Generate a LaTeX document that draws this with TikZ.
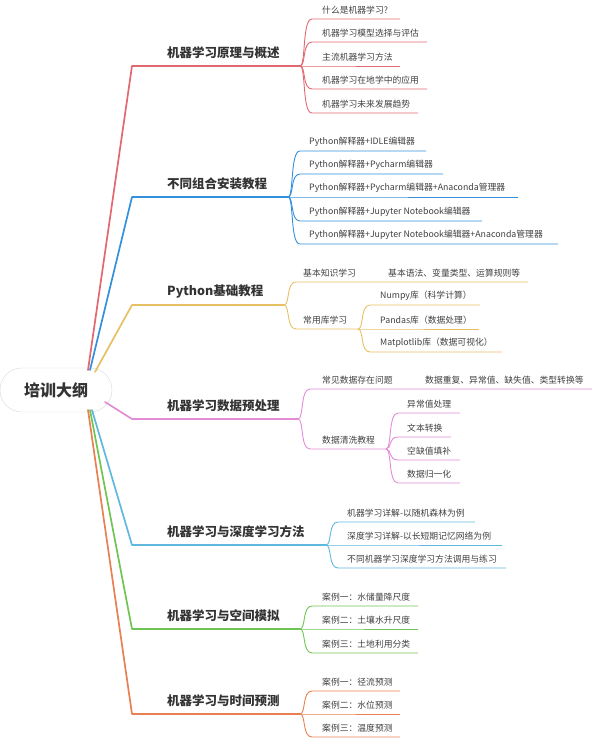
\documentclass[tikz,border=0pt]{standalone}
\usepackage{fontspec}
\setmainfont{Noto Sans CJK SC}
\definecolor{c1}{RGB}{226,104,112}
\definecolor{c2}{RGB}{52,144,220}
\definecolor{c3}{RGB}{232,192,100}
\definecolor{c4}{RGB}{226,140,214}
\definecolor{c5}{RGB}{96,184,222}
\definecolor{c6}{RGB}{112,196,84}
\definecolor{c7}{RGB}{232,128,84}
\begin{document}
\begin{tikzpicture}[x=1pt,y=-1pt,
    topic/.style={anchor=west,inner sep=0pt,font=\fontsize{12.5}{14}\selectfont\bfseries,text=black!80},
    leaf/.style={anchor=west,inner sep=0pt,font=\fontsize{8.8}{10}\selectfont,text=black!75},
    trunk/.style={line width=1.7pt,line cap=round},
    limb/.style={line width=1.1pt},
    twig/.style={line width=0.9pt}]
\useasboundingbox (0,0) rectangle (594,738);

\node[draw=black!15,fill=white,rounded corners=22pt,minimum width=112pt,minimum height=44pt,
      font=\fontsize{16}{18}\selectfont\bfseries,text=black!80] (root) at (56,390) {培训大纲};

% branch 1
\coordinate (r1) at (88,370);
\coordinate (b1) at (132,66);
\coordinate (f1) at (300,66);
\node[topic] (t1) at (167,53) {机器学习原理与概述};
\draw[c1,trunk] (r1) -- (b1);
\draw[c1,limb] (b1) -- (f1);

\coordinate (a11) at (312,19);  \coordinate (e11) at (400,19);
\coordinate (a12) at (312,42);  \coordinate (e12) at (427,42);
\coordinate (a13) at (312,66);  \coordinate (e13) at (400,66);
\coordinate (a14) at (312,89);  \coordinate (e14) at (427,89);
\coordinate (a15) at (312,113); \coordinate (e15) at (418,113);
\node[leaf] (l11) at (322,10) {什么是机器学习?};
\node[leaf] (l12) at (322,33) {机器学习模型选择与评估};
\node[leaf] (l13) at (322,57) {主流机器学习方法};
\node[leaf] (l14) at (322,80) {机器学习在地学中的应用};
\node[leaf] (l15) at (322,104) {机器学习未来发展趋势};
\draw[c1,twig] (f1) .. controls +(6,0) and +(-10,0) .. (a11) -- (e11);
\draw[c1,twig] (f1) .. controls +(6,0) and +(-10,0) .. (a12) -- (e12);
\draw[c1,twig] (f1) -- (a13) -- (e13);
\draw[c1,twig] (f1) .. controls +(6,0) and +(-10,0) .. (a14) -- (e14);
\draw[c1,twig] (f1) .. controls +(6,0) and +(-10,0) .. (a15) -- (e15);

% branch 2
\coordinate (r2) at (90,370);
\coordinate (b2) at (132,197);
\coordinate (f2) at (288,197);
\node[topic] (t2) at (167,184) {不同组合安装教程};
\draw[c2,trunk] (r2) -- (b2);
\draw[c2,limb] (b2) -- (f2);

\coordinate (a21) at (300,151); \coordinate (e21) at (426,151);
\coordinate (a22) at (300,174); \coordinate (e22) at (443,174);
\coordinate (a23) at (300,197); \coordinate (e23) at (518,197);
\coordinate (a24) at (300,221); \coordinate (e24) at (482,221);
\coordinate (a25) at (300,244); \coordinate (e25) at (558,244);
\node[leaf] (l21) at (309,142) {Python解释器+IDLE编辑器};
\node[leaf] (l22) at (309,165) {Python解释器+Pycharm编辑器};
\node[leaf] (l23) at (309,188) {Python解释器+Pycharm编辑器+Anaconda管理器};
\node[leaf] (l24) at (309,212) {Python解释器+Jupyter Notebook编辑器};
\node[leaf] (l25) at (309,235) {Python解释器+Jupyter Notebook编辑器+Anaconda管理器};
\draw[c2,twig] (f2) .. controls +(6,0) and +(-10,0) .. (a21) -- (e21);
\draw[c2,twig] (f2) .. controls +(6,0) and +(-10,0) .. (a22) -- (e22);
\draw[c2,twig] (f2) -- (a23) -- (e23);
\draw[c2,twig] (f2) .. controls +(6,0) and +(-10,0) .. (a24) -- (e24);
\draw[c2,twig] (f2) .. controls +(6,0) and +(-10,0) .. (a25) -- (e25);

% branch 3
\coordinate (r3) at (95,372);
\coordinate (b3) at (132,305);
\coordinate (f3) at (284,305);
\node[topic] (t3) at (167,292) {Python基础教程};
\draw[c3,trunk] (r3) -- (b3);
\draw[c3,limb] (b3) -- (f3);

\coordinate (a31) at (296,282); \coordinate (e31) at (380,282); \coordinate (g31) at (528,282);
\coordinate (a32) at (296,329); \coordinate (f32) at (358,329);
\node[leaf] (l31) at (303,273) {基本知识学习};
\node[leaf] (k31) at (388,273) {基本语法、变量类型、运算规则等};
\node[leaf] (l32) at (303,320) {常用库学习};
\draw[c3,twig] (f3) .. controls +(6,0) and +(-10,0) .. (a31) -- (e31) -- (g31);
\draw[c3,twig] (f3) .. controls +(6,0) and +(-10,0) .. (a32) -- (f32);

\coordinate (a321) at (370,305); \coordinate (e321) at (480,305);
\coordinate (a322) at (370,329); \coordinate (e322) at (479,329);
\coordinate (a323) at (370,352); \coordinate (e323) at (502,352);
\node[leaf] (l321) at (380,296) {Numpy库（科学计算）};
\node[leaf] (l322) at (380,320) {Pandas库（数据处理）};
\node[leaf] (l323) at (380,343) {Matplotlib库（数据可视化）};
\draw[c3,twig] (f32) .. controls +(6,0) and +(-10,0) .. (a321) -- (e321);
\draw[c3,twig] (f32) -- (a322) -- (e322);
\draw[c3,twig] (f32) .. controls +(6,0) and +(-10,0) .. (a323) -- (e323);

% branch 4
\coordinate (r4) at (105,402);
\coordinate (b4) at (132,419);
\coordinate (f4) at (298,419);
\node[topic] (t4) at (167,406) {机器学习数据预处理};
\draw[c4,trunk] (r4) -- (b4);
\draw[c4,limb] (b4) -- (f4);

\coordinate (a41) at (310,389); \coordinate (e41) at (415,389); \coordinate (g41) at (592,389);
\coordinate (a42) at (310,449); \coordinate (f42) at (386,449);
\node[leaf] (l41) at (322,380) {常见数据存在问题};
\node[leaf] (k41) at (425,380) {数据重复、异常值、缺失值、类型转换等};
\node[leaf] (l42) at (322,440) {数据清洗教程};
\draw[c4,twig] (f4) .. controls +(6,0) and +(-10,0) .. (a41) -- (e41) -- (g41);
\draw[c4,twig] (f4) .. controls +(6,0) and +(-10,0) .. (a42) -- (f42);

\coordinate (a421) at (398,413); \coordinate (e421) at (460,413);
\coordinate (a422) at (398,437); \coordinate (e422) at (451,437);
\coordinate (a423) at (398,460); \coordinate (e423) at (460,460);
\coordinate (a424) at (398,483); \coordinate (e424) at (460,483);
\node[leaf] (l421) at (407,404) {异常值处理};
\node[leaf] (l422) at (407,428) {文本转换};
\node[leaf] (l423) at (407,451) {空缺值填补};
\node[leaf] (l424) at (407,474) {数据归一化};
\draw[c4,twig] (f42) .. controls +(6,0) and +(-10,0) .. (a421) -- (e421);
\draw[c4,twig] (f42) .. controls +(6,0) and +(-10,0) .. (a422) -- (e422);
\draw[c4,twig] (f42) .. controls +(6,0) and +(-10,0) .. (a423) -- (e423);
\draw[c4,twig] (f42) .. controls +(6,0) and +(-10,0) .. (a424) -- (e424);

% branch 5
\coordinate (r5) at (92,410);
\coordinate (b5) at (132,545);
\coordinate (f5) at (326,545);
\node[topic] (t5) at (167,532) {机器学习与深度学习方法};
\draw[c5,trunk] (r5) -- (b5);
\draw[c5,limb] (b5) -- (f5);

\coordinate (a51) at (338,522); \coordinate (e51) at (475,522);
\coordinate (a52) at (338,545); \coordinate (e52) at (502,545);
\coordinate (a53) at (338,568); \coordinate (e53) at (506,568);
\node[leaf] (l51) at (347,513) {机器学习详解-以随机森林为例};
\node[leaf] (l52) at (347,536) {深度学习详解-以长短期记忆网络为例};
\node[leaf] (l53) at (347,559) {不同机器学习深度学习方法调用与练习};
\draw[c5,twig] (f5) .. controls +(6,0) and +(-10,0) .. (a51) -- (e51);
\draw[c5,twig] (f5) -- (a52) -- (e52);
\draw[c5,twig] (f5) .. controls +(6,0) and +(-10,0) .. (a53) -- (e53);

% branch 6
\coordinate (r6) at (90,410);
\coordinate (b6) at (132,629);
\coordinate (f6) at (300,629);
\node[topic] (t6) at (167,616) {机器学习与空间模拟};
\draw[c6,trunk] (r6) -- (b6);
\draw[c6,limb] (b6) -- (f6);

\coordinate (a61) at (312,606); \coordinate (e61) at (418,606);
\coordinate (a62) at (312,629); \coordinate (e62) at (418,629);
\coordinate (a63) at (312,653); \coordinate (e63) at (418,653);
\node[leaf] (l61) at (322,597) {案例一：水储量降尺度};
\node[leaf] (l62) at (322,620) {案例二：土壤水升尺度};
\node[leaf] (l63) at (322,644) {案例三：土地利用分类};
\draw[c6,twig] (f6) .. controls +(6,0) and +(-10,0) .. (a61) -- (e61);
\draw[c6,twig] (f6) -- (a62) -- (e62);
\draw[c6,twig] (f6) .. controls +(6,0) and +(-10,0) .. (a63) -- (e63);

% branch 7
\coordinate (r7) at (88,410);
\coordinate (b7) at (132,714);
\coordinate (f7) at (300,714);
\node[topic] (t7) at (167,701) {机器学习与时间预测};
\draw[c7,trunk] (r7) -- (b7);
\draw[c7,limb] (b7) -- (f7);

\coordinate (a71) at (312,691); \coordinate (e71) at (400,691);
\coordinate (a72) at (312,714); \coordinate (e72) at (400,714);
\coordinate (a73) at (312,737); \coordinate (e73) at (400,737);
\node[leaf] (l71) at (322,682) {案例一：径流预测};
\node[leaf] (l72) at (322,705) {案例二：水位预测};
\node[leaf] (l73) at (322,728) {案例三：温度预测};
\draw[c7,twig] (f7) .. controls +(6,0) and +(-10,0) .. (a71) -- (e71);
\draw[c7,twig] (f7) -- (a72) -- (e72);
\draw[c7,twig] (f7) .. controls +(6,0) and +(-10,0) .. (a73) -- (e73);
\end{tikzpicture}
\end{document}
